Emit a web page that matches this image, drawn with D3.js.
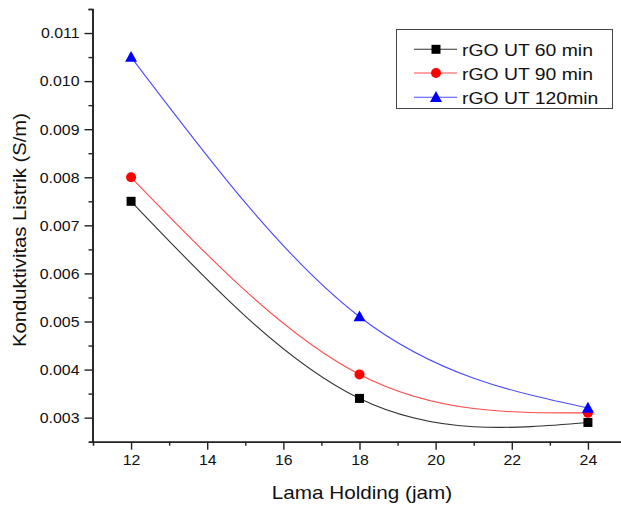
<!DOCTYPE html>
<html>
<head>
<meta charset="utf-8">
<script src="https://cdn.jsdelivr.net/npm/d3@7/dist/d3.min.js"></script>
<style>
  html, body { margin: 0; padding: 0; background: #fff; }
  svg { display: block; font-family: Arial, "Liberation Sans", sans-serif; }
</style>
</head>
<body>
<svg id="chart" width="621" height="506"></svg>
<script>
// Holding time (hours)
const holdTimes = [12, 18, 24];
// Electrical conductivity (S/m) per rGO ultrasonication time
const rgo60 = [0.0075, 0.0034, 0.0029];
const rgo90 = [0.0080, 0.0039, 0.0031];
const rgo120 = [0.0105, 0.0051, 0.0032];
const seriesNames = ["rGO UT 60 min", "rGO UT 90 min", "rGO UT 120min"];
const seriesColors = ["#000000", "#ff0000", "#0000ff"];
const seriesLineColors = ["#333333", "#ff4a4a", "#4a4aff"];
const seriesSymbols = ["square", "circle", "triangle"];
const xTickValues = [12, 14, 16, 18, 20, 22, 24];
const yTickValues = [0.003, 0.004, 0.005, 0.006, 0.007, 0.008, 0.009, 0.010, 0.011];
const xTitle = "Lama Holding (jam)";
const yTitle = "Konduktivitas Listrik (S/m)";

const svg = d3.select("#chart");
const x = d3.scaleLinear().domain([11, 25]).range([93, 626]);
const y = d3.scaleLinear().domain([0.0025, 0.0115]).range([441.7, 9]);

const series = [rgo60, rgo90, rgo120].map((vals, i) => ({
  name: seriesNames[i],
  color: seriesColors[i],
  lineColor: seriesLineColors[i],
  symbol: seriesSymbols[i],
  points: holdTimes.map((h, j) => ({ x: h, y: vals[j] }))
}));

function symbolPath(kind) {
  if (kind === "square") return d3.symbol(d3.symbolSquare, 81)();
  if (kind === "circle") return d3.symbol(d3.symbolCircle, Math.PI * 25)();
  // upward triangle, ~12px wide
  return "M0,-6.2L6,4.6L-6,4.6Z";
}

// Axes
const xAxisMajor = d3.axisBottom(x).tickValues(xTickValues).tickSize(8).tickPadding(5)
  .tickFormat(d3.format("d"));
const xAxisMinor = d3.axisBottom(x).tickValues([13, 15, 17, 19, 21, 23, 25]).tickSize(4).tickFormat("");
const yAxisMajor = d3.axisLeft(y).tickValues(yTickValues).tickSize(8).tickPadding(5)
  .tickFormat(d3.format(".3f"));
const yAxisMinor = d3.axisLeft(y).tickValues([0.0035, 0.0045, 0.0055, 0.0065, 0.0075, 0.0085, 0.0095, 0.0105, 0.0115])
  .tickSize(4).tickFormat("");

function styleAxis(g) {
  g.select(".domain").attr("stroke", "#222").attr("stroke-width", 1.6);
  g.selectAll(".tick line").attr("stroke", "#222").attr("stroke-width", 1.4);
  g.selectAll(".tick text").attr("fill", "#111").attr("font-size", 15)
    .attr("font-family", "Arial, 'Liberation Sans', sans-serif");
}

svg.append("g").attr("transform", "translate(0,441.7)").call(xAxisMinor).call(styleAxis);
svg.append("g").attr("transform", "translate(0,441.7)").call(xAxisMajor).call(styleAxis)
  .call(g => g.select(".domain").attr("d", "M89,0.5H626"));
svg.append("g").attr("transform", "translate(92.5,0)").call(yAxisMinor).call(styleAxis);
svg.append("g").attr("transform", "translate(92.5,0)").call(yAxisMajor).call(styleAxis)
  .call(g => g.select(".domain").attr("d", "M0.5,9V442"));

// Slightly wider glyphs for the tick labels
svg.selectAll(".tick text").each(function () {
  const t = d3.select(this);
  const xv = +t.attr("x") || 0;
  t.attr("transform", "scale(1.06,1)").attr("x", xv / 1.06);
});

// Axis titles
svg.append("text")
  .attr("transform", "translate(362,499) scale(1.15,1)")
  .attr("text-anchor", "middle")
  .attr("font-size", 18)
  .attr("fill", "#111")
  .text(xTitle);

svg.append("text")
  .attr("transform", "translate(26,230) rotate(-90) scale(1.1,1)")
  .attr("text-anchor", "middle")
  .attr("font-size", 18.4)
  .attr("fill", "#111")
  .text(yTitle);

// Smooth curves through each series
const line = d3.line().x(d => x(d.x)).y(d => y(d.y)).curve(d3.curveNatural);
const plot = svg.append("g");
series.forEach(s => {
  plot.append("path")
    .attr("d", line(s.points))
    .attr("fill", "none")
    .attr("stroke", s.lineColor)
    .attr("stroke-width", 1.1);
});
series.forEach(s => {
  plot.selectAll(null).data(s.points).enter().append("path")
    .attr("d", symbolPath(s.symbol))
    .attr("transform", d => `translate(${x(d.x)},${y(d.y)})`)
    .attr("fill", s.color);
});

// Legend
const legend = svg.append("g");
legend.append("rect")
  .attr("x", 396.5).attr("y", 29.5).attr("width", 216).attr("height", 79)
  .attr("fill", "#fff").attr("stroke", "#444").attr("stroke-width", 1);
const rowY = [49.3, 73, 97.3];
series.forEach((s, i) => {
  const g = legend.append("g").attr("transform", `translate(0,${rowY[i]})`);
  g.append("line").attr("x1", 414).attr("x2", 457).attr("y1", 0).attr("y2", 0)
    .attr("stroke", s.lineColor).attr("stroke-width", 1.1);
  g.append("path").attr("d", symbolPath(s.symbol)).attr("transform", "translate(436,0)")
    .attr("fill", s.color);
  g.append("text")
    .attr("transform", "translate(462,6.5) scale(1.14,1)")
    .attr("font-size", 17)
    .attr("fill", "#111")
    .text(s.name);
});
</script>
</body>
</html>
